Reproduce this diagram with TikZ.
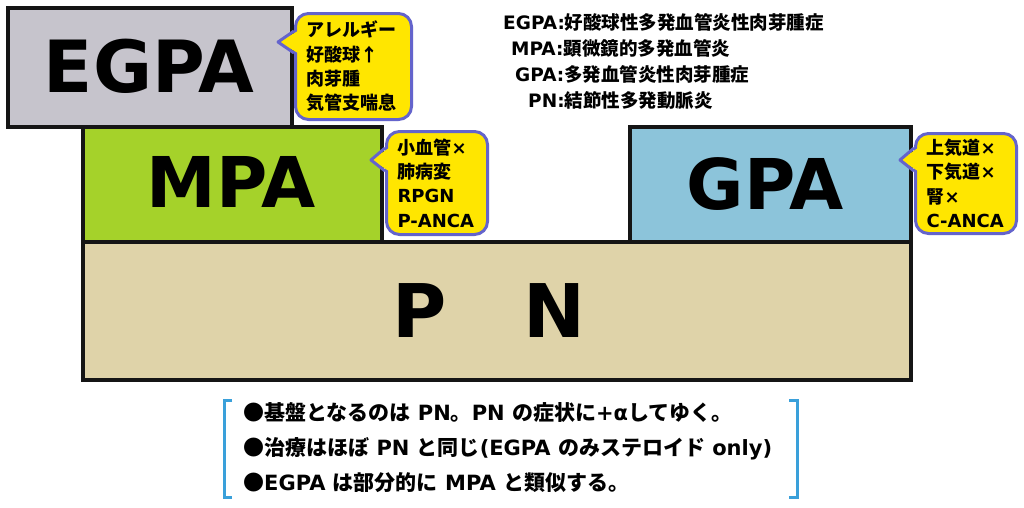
\documentclass[tikz,border=0pt]{standalone}
\usepackage{fontspec}
\setmainfont{DejaVu Sans}
\newfontfamily\jp{Noto Sans CJK JP}
\newcommand\J[1]{{\jp\bfseries #1}}
\definecolor{boxline}{HTML}{151515}
\definecolor{egpafill}{HTML}{C6C4CC}
\definecolor{mpafill}{HTML}{A5D22A}
\definecolor{gpafill}{HTML}{8CC4DA}
\definecolor{pnfill}{HTML}{DFD3A9}
\definecolor{calfill}{HTML}{FFE600}
\definecolor{calline}{HTML}{6464CC}
\definecolor{brkcol}{HTML}{3AA0DA}
\tikzset{
  boxst/.style={draw=boxline, line width=3.5pt, anchor=north west, inner sep=0pt},
  big/.style={font=\bfseries\fontsize{72}{72}\selectfont, inner sep=0pt, anchor=base},
  callbox/.style={draw=calline, fill=calfill, line width=3pt, rounded corners=13pt,
    anchor=north west, inner xsep=11pt, inner ysep=0pt, align=left,
    font=\bfseries\fontsize{18}{24.3}\selectfont},
  ptrfill/.style={fill=calfill},
  ptrline/.style={draw=calline, line width=3pt, line join=round},
  defl/.style={anchor=base west, inner sep=0pt, font=\bfseries\fontsize{18.5}{22}\selectfont},
  note/.style={anchor=base west, inner sep=0pt, font=\bfseries\fontsize{21}{22}\selectfont},
  brk/.style={draw=brkcol, line width=3pt}
}
\begin{document}
\begin{tikzpicture}[x=1pt,y=-1pt]
\useasboundingbox[fill=white] (0,0) rectangle (1024,507);
% boxes
\node[boxst, fill=pnfill, minimum width=828pt, minimum height=138pt] (pnbox) at (81,240) {};
\node[boxst, fill=mpafill, minimum width=299pt, minimum height=115pt] (mpabox) at (81,125) {};
\node[boxst, fill=gpafill, minimum width=281pt, minimum height=115pt] (gpabox) at (628,125) {};
\node[boxst, fill=egpafill, minimum width=284pt, minimum height=119pt] (egpabox) at (6,6) {};
% big labels
\node[big] (egpalbl) at (149,92) {EGPA};
\node[big, font=\bfseries\fontsize{70}{70}\selectfont] (mpalbl) at (231,207) {MPA};
\node[big, font=\bfseries\fontsize{70}{70}\selectfont] (gpalbl) at (765,209) {GPA};
\node[big, font=\bfseries\fontsize{74}{74}\selectfont] (pnlbl) at (489,337) {P\hspace{77pt}N};
% callouts
\node[callbox, minimum width=116pt, minimum height=106pt, text width=94pt] (c1) at (294,12)
  {\J{アレルギー}\\\J{好酸球↑}\\\J{肉芽腫}\\\J{気管支喘息}};
\fill[ptrfill] (278,42) -- (298,31) -- (298,53) -- cycle;
\draw[ptrline] (294,31) -- (278,42) -- (294,53);
\node[callbox, minimum width=101pt, minimum height=103pt, text width=79pt] (c2) at (385,130)
  {\J{小血管}×\\\J{肺病変}\\RPGN\\P-ANCA};
\fill[ptrfill] (371,160) -- (389,148) -- (389,171) -- cycle;
\draw[ptrline] (385,148) -- (371,160) -- (385,171);
\node[callbox, minimum width=101pt, minimum height=100pt, text width=79pt] (c3) at (914,132)
  {\J{上気道}×\\\J{下気道}×\\\J{腎}×\\C-ANCA};
\fill[ptrfill] (900,160) -- (918,148) -- (918,171) -- cycle;
\draw[ptrline] (914,148) -- (900,160) -- (914,171);
% definitions
\node[defl] (d1) at (503,29) {EGPA:\J{好酸球性多発血管炎性肉芽腫症}};
\node[defl] (d2) at (511,55) {MPA:\J{顕微鏡的多発血管炎}};
\node[defl] (d3) at (515,81) {GPA:\J{多発血管炎性肉芽腫症}};
\node[defl] (d4) at (528,107) {PN:\J{結節性多発動脈炎}};
% notes
\node[note] (n1) at (243,420) {\J{●基盤となるのは} PN\J{。}PN \J{の症状に}+α\J{してゆく。}};
\node[note] (n2) at (243,455) {\J{●治療はほぼ} PN \J{と同じ}(EGPA \J{のみステロイド} only)};
\node[note] (n3) at (243,490) {\J{●}EGPA \J{は部分的に} MPA \J{と類似する。}};
% brackets
\draw[brk] (232,400) -- (224,400) -- (224,497) -- (232,497);
\draw[brk] (789,400) -- (797,400) -- (797,497) -- (789,497);
\end{tikzpicture}
\end{document}
